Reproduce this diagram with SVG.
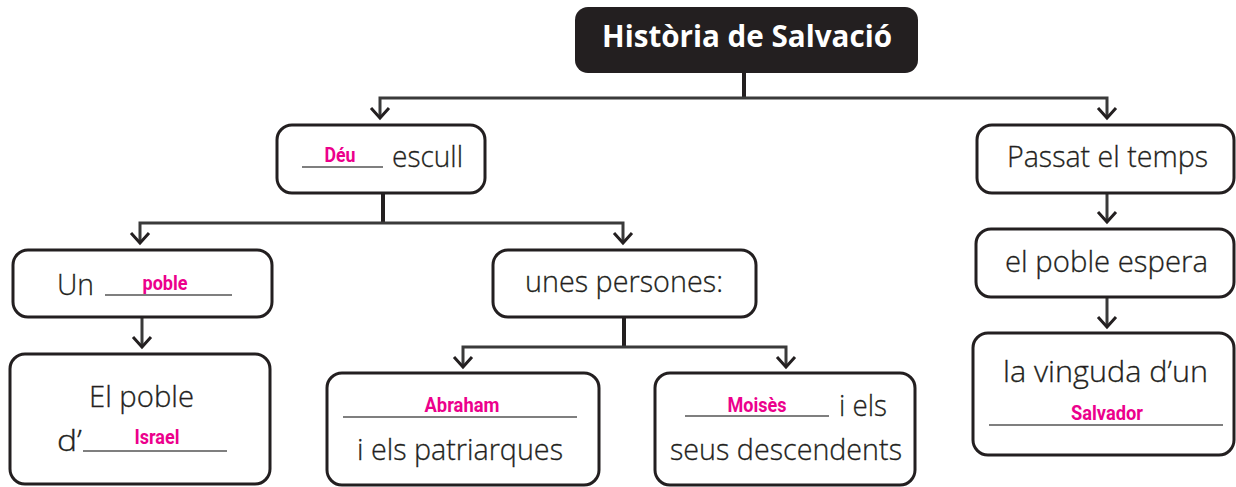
<svg xmlns="http://www.w3.org/2000/svg" width="1236" height="487" viewBox="0 0 1236 487">
<style>
.box{fill:#fff;stroke:#231f20;stroke-width:3}
.t{font-family:"Open Sans","Liberation Sans",sans-serif;font-weight:300;font-size:28.5px;fill:#231f20;stroke:#231f20;stroke-width:0.3}
.p{font-family:"Liberation Sans Narrow","Roboto","Liberation Sans",sans-serif;font-weight:bold;font-size:21px;fill:#ec008c}
.u{stroke:#555;stroke-width:1.5;fill:none}
.ln{stroke:#3a3a3a;stroke-width:3;fill:none}
.stem{stroke:#231f20;stroke-width:4;fill:none}
.ah{stroke:#231f20;stroke-width:3;fill:none;stroke-linejoin:miter}
</style>
<rect width="1236" height="487" fill="#fff"/>
<g id="connectors">
<line class="stem" x1="744" y1="73" x2="744" y2="99"/>
<path class="ln" d="M380,118 V98 H1107 V118"/>
<path class="ah" d="M371,108 L380,118 L389,108"/>
<path class="ah" d="M1098,108 L1107,118 L1116,108"/>
<line class="stem" x1="383" y1="193" x2="383" y2="224"/>
<path class="ln" d="M140,243 V223 H623 V243"/>
<path class="ah" d="M131,233 L140,243 L149,233"/>
<path class="ah" d="M614,233 L623,243 L632,233"/>
<path class="ln" d="M142,317 V347"/>
<path class="ah" d="M133,337 L142,347 L151,337"/>
<line class="stem" x1="624" y1="317" x2="624" y2="348"/>
<path class="ln" d="M463,367 V347 H786 V367"/>
<path class="ah" d="M454,357 L463,367 L472,357"/>
<path class="ah" d="M777,357 L786,367 L795,357"/>
<path class="ln" d="M1107,193 V222"/>
<path class="ah" d="M1098,212 L1107,222 L1116,212"/>
<path class="ln" d="M1107,297 V327"/>
<path class="ah" d="M1098,317 L1107,327 L1116,317"/>
</g>
<g id="title">
<rect x="575" y="7" width="343" height="66" rx="13" fill="#231f20"/>
<text x="747" y="47" text-anchor="middle" font-family="'Open Sans','Liberation Sans',sans-serif" font-weight="bold" font-size="31" fill="#fff" textLength="290" lengthAdjust="spacingAndGlyphs">Història de Salvació</text>
</g>
<g id="deu">
<rect class="box" x="277" y="125" width="208" height="68" rx="15"/>
<line class="u" x1="302" y1="167" x2="383" y2="167"/>
<text class="p" x="340" y="162" text-anchor="middle" textLength="31" lengthAdjust="spacingAndGlyphs">Déu</text>
<text class="t" x="392" y="167" textLength="71" lengthAdjust="spacingAndGlyphs">escull</text>
</g>
<g id="passat">
<rect class="box" x="977" y="125" width="257" height="68" rx="15"/>
<text class="t" x="1007" y="167" textLength="201" lengthAdjust="spacingAndGlyphs">Passat el temps</text>
</g>
<g id="espera">
<rect class="box" x="976" y="229" width="258" height="68" rx="15"/>
<text class="t" x="1005" y="272" textLength="203" lengthAdjust="spacingAndGlyphs">el poble espera</text>
</g>
<g id="vinguda">
<rect class="box" x="973" y="333" width="261" height="122" rx="15"/>
<text class="t" x="1003" y="382" textLength="205" lengthAdjust="spacingAndGlyphs">la vinguda d’un</text>
<line class="u" x1="989" y1="425" x2="1223" y2="425"/>
<text class="p" x="1107" y="420" text-anchor="middle" textLength="72" lengthAdjust="spacingAndGlyphs">Salvador</text>
</g>
<g id="unpoble">
<rect class="box" x="13" y="250" width="259" height="67" rx="15"/>
<text class="t" x="57" y="295" textLength="37" lengthAdjust="spacingAndGlyphs">Un</text>
<line class="u" x1="105" y1="295" x2="232" y2="295"/>
<text class="p" x="165" y="290" text-anchor="middle" textLength="45" lengthAdjust="spacingAndGlyphs">poble</text>
</g>
<g id="israel">
<rect class="box" x="10" y="354" width="260" height="130" rx="15"/>
<text class="t" x="89" y="407" textLength="105" lengthAdjust="spacingAndGlyphs">El poble</text>
<text class="t" x="57" y="451" textLength="25" lengthAdjust="spacingAndGlyphs">d’</text>
<line class="u" x1="83" y1="451" x2="227" y2="451"/>
<text class="p" x="157" y="444" text-anchor="middle" textLength="45" lengthAdjust="spacingAndGlyphs">Israel</text>
</g>
<g id="persones">
<rect class="box" x="493" y="250" width="263" height="67" rx="15"/>
<text class="t" x="525" y="292" textLength="198" lengthAdjust="spacingAndGlyphs">unes persones:</text>
</g>
<g id="abraham">
<rect class="box" x="327" y="373" width="272" height="112" rx="15"/>
<line class="u" x1="343" y1="417" x2="577" y2="417"/>
<text class="p" x="462" y="412" text-anchor="middle" textLength="75" lengthAdjust="spacingAndGlyphs">Abraham</text>
<text class="t" x="357" y="460" textLength="206" lengthAdjust="spacingAndGlyphs">i els patriarques</text>
</g>
<g id="moises">
<rect class="box" x="655" y="373" width="260" height="112" rx="15"/>
<line class="u" x1="685" y1="416" x2="829" y2="416"/>
<text class="p" x="757" y="412" text-anchor="middle" textLength="59" lengthAdjust="spacingAndGlyphs">Moisès</text>
<text class="t" x="839" y="416" textLength="48" lengthAdjust="spacingAndGlyphs">i els</text>
<text class="t" x="670" y="460" textLength="232" lengthAdjust="spacingAndGlyphs">seus descendents</text>
</g>
</svg>
